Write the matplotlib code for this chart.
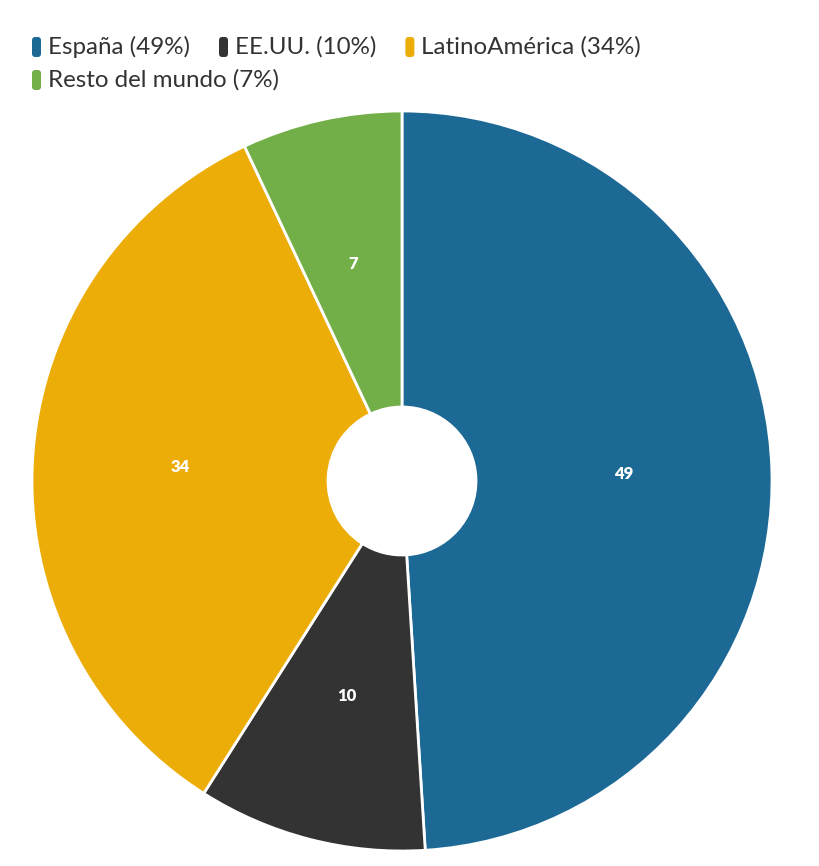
import matplotlib
matplotlib.use('Agg')
import matplotlib.pyplot as plt
from matplotlib.patches import FancyBboxPatch

categories = ['España', 'EE.UU.', 'LatinoAmérica', 'Resto del mundo']
values = [49, 10, 34, 7]
colors = ['#1d6996', '#333333', '#edad08', '#73af48']

plt.rcParams['font.family'] = ['Lato', 'DejaVu Sans']

fig = plt.figure(figsize=(8.2, 8.66), dpi=100)
W, H = 820, 866

# pie centred at (402, 481) px, radius 370 px
cx, cy, r = 402, 481, 370
ax = fig.add_axes([(cx - r) / W, (H - cy - r) / H, 2 * r / W, 2 * r / H])
ax.pie(values, colors=colors, startangle=90, counterclock=False,
       radius=1.0, autopct=lambda p: '%d' % round(p * sum(values) / 100),
       pctdistance=0.6,
       wedgeprops=dict(width=0.8, edgecolor='white', linewidth=2, clip_on=False),
       textprops=dict(color='white', fontsize=12, fontweight='heavy'))
ax.set_xlim(-1.0, 1.0)
ax.set_ylim(-1.0, 1.0)
ax.set_aspect('equal')
ax.axis('off')

# legend drawn as flowing items
total = sum(values)
labels = ['%s (%d%%)' % (c, round(v * 100 / total)) for c, v in zip(categories, values)]
renderer = fig.canvas.get_renderer()
x, y = 32, 47
row_h = 33
max_x = 700
for lab, col in zip(labels, colors):
    t = fig.text(0, 0, lab, fontsize=17.4, color='#333333', va='center', ha='left')
    w = t.get_window_extent(renderer).width
    if x + 17 + w > max_x:
        x = 32
        y += row_h
    fig.patches.append(FancyBboxPatch((x / W, (H - y - 10) / H), 9 / W, 20 / H,
                                      boxstyle='round,pad=0,rounding_size=0.004',
                                      transform=fig.transFigure, facecolor=col,
                                      edgecolor='none'))
    t.set_position(((x + 16) / W, (H - y) / H))
    x += 16 + w + 29

fig.savefig('out.png', dpi=100)
